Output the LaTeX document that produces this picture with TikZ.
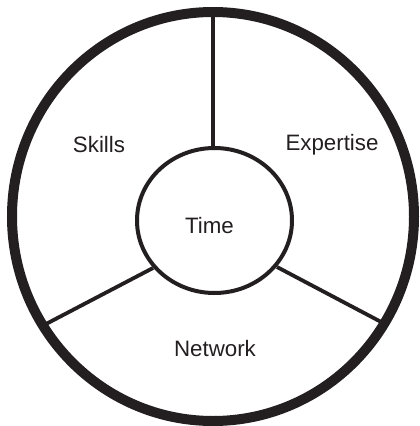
\documentclass[tikz,border=0pt]{standalone}
\usepackage{fontspec}
\setmainfont{Liberation Sans}
\usetikzlibrary{shapes.geometric}
\definecolor{ink}{HTML}{231F20}
\begin{document}
\begin{tikzpicture}[x=1pt,y=-1pt,
  ringline/.style={draw=ink,line width=10pt},
  hubline/.style={draw=ink,line width=4pt},
  spoke/.style={draw=ink,line width=3.8pt},
  lbl/.style={text=ink,font=\fontsize{22.3}{25}\selectfont,anchor=base,inner sep=0pt}]
\useasboundingbox (0,0) rectangle (420,426);
\fill[white] (0,0) rectangle (420,426);
% coordinates where spokes meet the outer ring
\coordinate (ctop) at (213,14);
\coordinate (cleft) at (46,324);
\coordinate (cright) at (385,324);
% hub ellipse and spokes (drawn first so the ring covers their ends)
\node[ellipse,hubline,minimum width=155pt,minimum height=145pt,inner sep=0pt] (hub) at (214.5,220.5) {};
\coordinate (htop) at (213,147);
\coordinate (hleft) at (153,268);
\coordinate (hright) at (277,267);
\draw[spoke] (htop) -- (ctop);
\draw[spoke] (hleft) -- (cleft);
\draw[spoke] (hright) -- (cright);
\draw[ringline] (213,216.5) ellipse [x radius=201, y radius=204.5];
\node[lbl] (skills) at (99,152) {Skills};
\node[lbl] (expertise) at (332,150.5) {Expertise};
\node[lbl] (network) at (215,356.5) {Network};
\node[lbl] (time) at (209.5,233) {Time};
\end{tikzpicture}
\end{document}
